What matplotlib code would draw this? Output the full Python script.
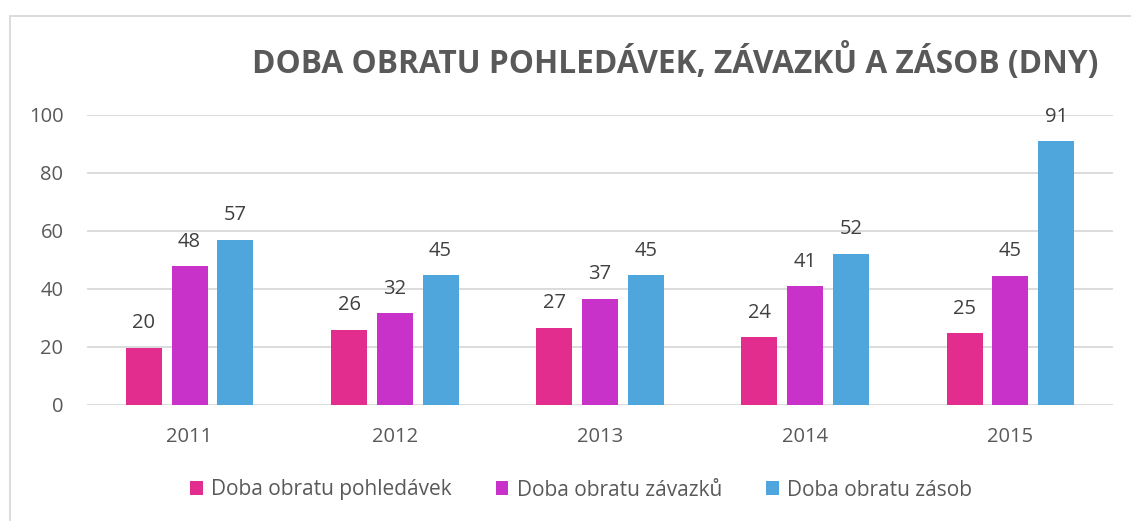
import matplotlib.pyplot as plt
import numpy as np
from matplotlib.patches import Rectangle

plt.rcParams['font.family'] = ['Open Sans', 'DejaVu Sans']

years = ['2011', '2012', '2013', '2014', '2015']
pohledavky = [19.7, 25.9, 26.6, 23.4, 24.8]
zavazky = [47.9, 31.7, 36.6, 41.0, 44.5]
zasoby = [56.9, 44.8, 44.8, 52.1, 91.0]
labels_p = [20, 26, 27, 24, 25]
labels_z = [48, 32, 37, 41, 45]
labels_s = [57, 45, 45, 52, 91]
series_names = ['Doba obratu pohledávek', 'Doba obratu závazků', 'Doba obratu zásob']
colors = ['#E32D8E', '#C832C8', '#4FA6DC']
title = 'DOBA OBRATU POHLEDÁVEK, ZÁVAZKŮ A ZÁSOB (DNY)'

W, H = 1131, 521
fig = plt.figure(figsize=(W / 100, H / 100), dpi=100)
ax = fig.add_axes([87 / W, 1 - 405 / H, (1113 - 87) / W, (405 - 115) / H])

x = np.arange(len(years))
bw = 0.175
off = 0.223
series = [pohledavky, zavazky, zasoby]
labs = [labels_p, labels_z, labels_s]
for i, (vals, lab) in enumerate(zip(series, labs)):
    pos = x + (i - 1) * off
    bars = ax.bar(pos, vals, width=bw, color=colors[i], label=series_names[i], zorder=3)
    for b, l in zip(bars, lab):
        ax.text(b.get_x() + b.get_width() / 2, b.get_height() + 5, str(l),
                ha='center', va='bottom', fontsize=14.5, color='#404040')

ax.set_xlim(-0.5, 4.5)
ax.set_ylim(0, 100)
ax.set_yticks([0, 20, 40, 60, 80, 100])
ax.set_xticks(x)
ax.set_xticklabels(years)
ax.grid(axis='y', color='#D9D9D9', linewidth=1.3, zorder=0)
for s in ax.spines.values():
    s.set_visible(False)
ax.tick_params(axis='both', length=0, labelsize=14.5, colors='#595959')
ax.tick_params(axis='y', pad=17)
ax.tick_params(axis='x', pad=16)

fig.text(1098 / W, 1 - 62 / H, title, ha='right', va='center', fontsize=22.8,
         fontweight='bold', color='#595959')

leg = fig.legend(loc='center', bbox_to_anchor=(581 / W, 1 - 490 / H), ncol=3,
                 frameon=False, fontsize=15, handlelength=0.62, handleheight=0.62,
                 handletextpad=0.4, columnspacing=2.1)
for t in leg.get_texts():
    t.set_color('#595959')

fig.patches.append(Rectangle((10 / W, -0.1), 1.2, 1 - 16 / H + 0.1, transform=fig.transFigure,
                             fill=False, edgecolor='#D9D9D9', linewidth=1.3, zorder=0))

fig.savefig('out.png', dpi=100)
